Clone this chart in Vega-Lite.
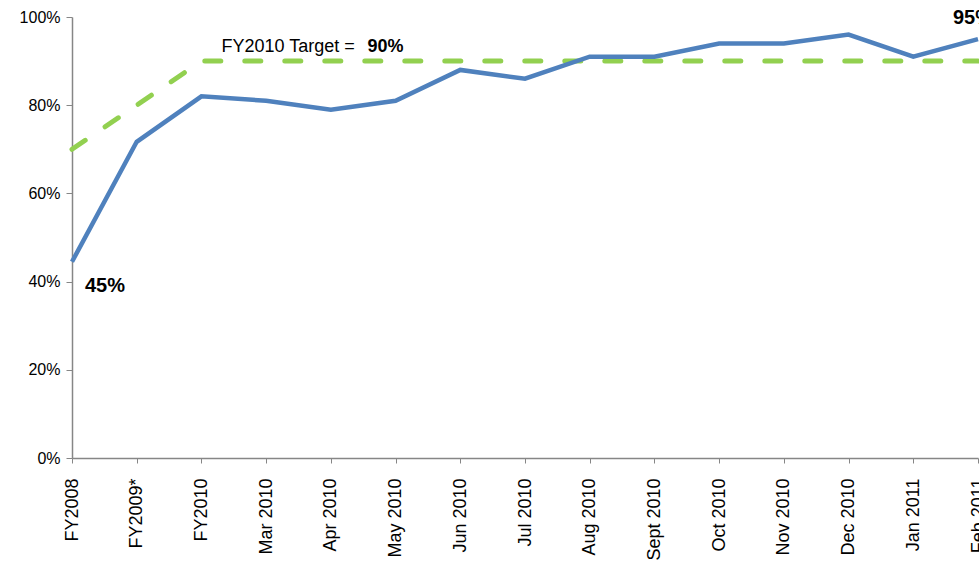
{
  "$schema": "https://vega.github.io/schema/vega-lite/v6.json",
  "width": 906,
  "height": 441,
  "autosize": {"type": "none"},
  "padding": {"left": 72, "top": 17, "right": 1, "bottom": 110},
  "background": "white",
  "config": {"view": {"stroke": null}, "font": "Liberation Sans"},
  "datasets": {
    "main": [
      {"period": "FY2008", "actual": 0.445, "target": 0.70},
      {"period": "FY2009*", "actual": 0.717, "target": 0.80},
      {"period": "FY2010", "actual": 0.82, "target": 0.90},
      {"period": "Mar 2010", "actual": 0.81, "target": 0.90},
      {"period": "Apr 2010", "actual": 0.79, "target": 0.90},
      {"period": "May 2010", "actual": 0.81, "target": 0.90},
      {"period": "Jun 2010", "actual": 0.88, "target": 0.90},
      {"period": "Jul 2010", "actual": 0.86, "target": 0.90},
      {"period": "Aug 2010", "actual": 0.91, "target": 0.90},
      {"period": "Sept 2010", "actual": 0.91, "target": 0.90},
      {"period": "Oct 2010", "actual": 0.94, "target": 0.90},
      {"period": "Nov 2010", "actual": 0.94, "target": 0.90},
      {"period": "Dec 2010", "actual": 0.96, "target": 0.90},
      {"period": "Jan 2011", "actual": 0.91, "target": 0.90},
      {"period": "Feb 2011", "actual": 0.95, "target": 0.90}
    ],
    "labels": [
      {"period": "FY2008", "value": 0.445, "label": "45%"},
      {"period": "Feb 2011", "value": 0.95, "label": "95%"}
    ]
  },
  "encoding": {
    "x": {
      "field": "period",
      "type": "ordinal",
      "sort": null,
      "scale": {"type": "point", "padding": 0},
      "axis": {
        "title": null,
        "labelAngle": -90,
        "labelAlign": "right",
        "labelBaseline": "middle",
        "labelFont": "Liberation Sans",
        "labelFontSize": 18,
        "labelColor": "#000000",
        "labelPadding": 15,
        "domainColor": "#868686",
        "domainWidth": 1.5,
        "tickColor": "#868686",
        "tickSize": 5,
        "labelOverlap": false,
        "labelBound": false
      }
    }
  },
  "layer": [
    {
      "data": {"name": "main"},
      "mark": {"type": "line", "color": "#92d050", "strokeWidth": 5, "strokeDash": [16, 24], "strokeCap": "round", "clip": false},
      "encoding": {
        "y": {
          "field": "target",
          "type": "quantitative",
          "scale": {"domain": [0, 1]},
          "axis": {
            "title": null,
            "values": [0, 0.2, 0.4, 0.6, 0.8, 1],
            "format": ".0%",
            "grid": false,
            "labelFont": "Liberation Sans",
            "labelFontSize": 16,
            "labelColor": "#000000",
            "labelPadding": 6,
            "domainColor": "#868686",
            "domainWidth": 1.5,
            "tickColor": "#868686",
            "tickSize": 6
          }
        }
      }
    },
    {
      "data": {"name": "main"},
      "mark": {"type": "line", "color": "#4f81bd", "strokeWidth": 4.5, "strokeJoin": "miter", "clip": false},
      "encoding": {"y": {"field": "actual", "type": "quantitative"}}
    },
    {
      "data": {"name": "labels"},
      "transform": [{"filter": "datum.period === 'FY2008'"}],
      "mark": {"type": "text", "fontWeight": "bold", "fontSize": 20, "align": "left", "baseline": "middle", "dx": 13, "dy": 24},
      "encoding": {"y": {"field": "value", "type": "quantitative"}, "text": {"field": "label"}}
    },
    {
      "data": {"name": "labels"},
      "transform": [{"filter": "datum.period === 'Feb 2011'"}],
      "mark": {"type": "text", "fontWeight": "bold", "fontSize": 20, "align": "left", "baseline": "middle", "dx": -25, "dy": -21},
      "encoding": {"y": {"field": "value", "type": "quantitative"}, "text": {"field": "label"}}
    },
    {
      "data": {"values": [{"period": "FY2010", "value": 0.9, "t1": "FY2010 Target = ", "t2": "90%"}]},
      "layer": [
        {
          "mark": {"type": "text", "fontSize": 18, "align": "left", "baseline": "middle", "dx": 20, "dy": -14},
          "encoding": {"y": {"field": "value", "type": "quantitative"}, "text": {"field": "t1"}}
        },
        {
          "mark": {"type": "text", "fontSize": 18, "fontWeight": "bold", "align": "left", "baseline": "middle", "dx": 166, "dy": -14},
          "encoding": {"y": {"field": "value", "type": "quantitative"}, "text": {"field": "t2"}}
        }
      ]
    }
  ]
}
